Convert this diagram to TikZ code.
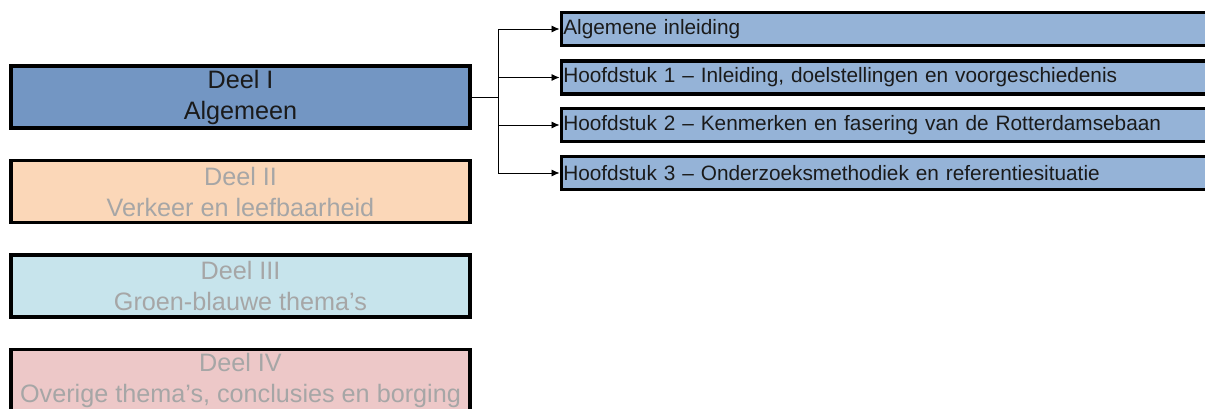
\documentclass[tikz,border=0pt]{standalone}
\usepackage{fontspec}
\setmainfont{Liberation Sans}
\usetikzlibrary{arrows.meta}
\definecolor{partone}{HTML}{7396C3}
\definecolor{chapter}{HTML}{95B3D7}
\definecolor{parttwo}{HTML}{FBD7B8}
\definecolor{partthree}{HTML}{C7E4EC}
\definecolor{partfour}{HTML}{EDC8C8}
\definecolor{dimtext}{HTML}{A6A6A6}
\definecolor{inktext}{HTML}{1A1A1A}
\begin{document}
\begin{tikzpicture}[x=1bp,y=-1bp,
  partbox/.style={draw=black, line width=3.6bp, minimum width=459bp, minimum height=62bp,
    inner sep=0pt, align=center, font=\fontsize{25.2bp}{31bp}\selectfont},
  chapbox/.style={draw=black, line width=3.6bp, fill=chapter, minimum width=670bp,
    minimum height=33bp, anchor=west, inner xsep=2bp, text width=666bp, align=left,
    text=inktext, font=\fontsize{20.8bp}{24bp}\selectfont},
  link/.style={draw=black, line width=0.8bp},
  arr/.style={link, -{Latex[length=8bp,width=7bp]}}]
\clip (0,0) rectangle (1205,408);
% four parts
\node[partbox, fill=partone, text=inktext] (p1) at (240.5,97) {Deel I\\Algemeen};
\node[partbox, fill=parttwo, text=dimtext] (p2) at (240.5,191.5) {Deel II\\Verkeer en leefbaarheid};
\node[partbox, fill=partthree, text=dimtext] (p3) at (240.5,286) {Deel III\\Groen-blauwe thema’s};
\node[partbox, fill=partfour, text=dimtext] (p4) at (240.5,380.5) {Deel IV\\Overige thema’s, conclusies en borging};
% chapters of part I
\node[chapbox] (c0) at (559.5,29) {Algemene inleiding};
\node[chapbox] (c1) at (559.5,77.5) {Hoofdstuk 1 – Inleiding, doelstellingen en voorgeschiedenis};
\node[chapbox] (c2) at (559.5,125) {Hoofdstuk 2 – Kenmerken en fasering van de Rotterdamsebaan};
\node[chapbox] (c3) at (559.5,173) {Hoofdstuk 3 – Onderzoeksmethodiek en referentiesituatie};
% tree connector
\coordinate (j) at (498,97);
\draw[link] (p1.east) -- (j);
\draw[link] (j |- c0.west) -- (j |- c3.west);
\foreach \c in {c0,c1,c2,c3}
  \draw[arr] (j |- \c.west) -- (\c.west);
\end{tikzpicture}
\end{document}
